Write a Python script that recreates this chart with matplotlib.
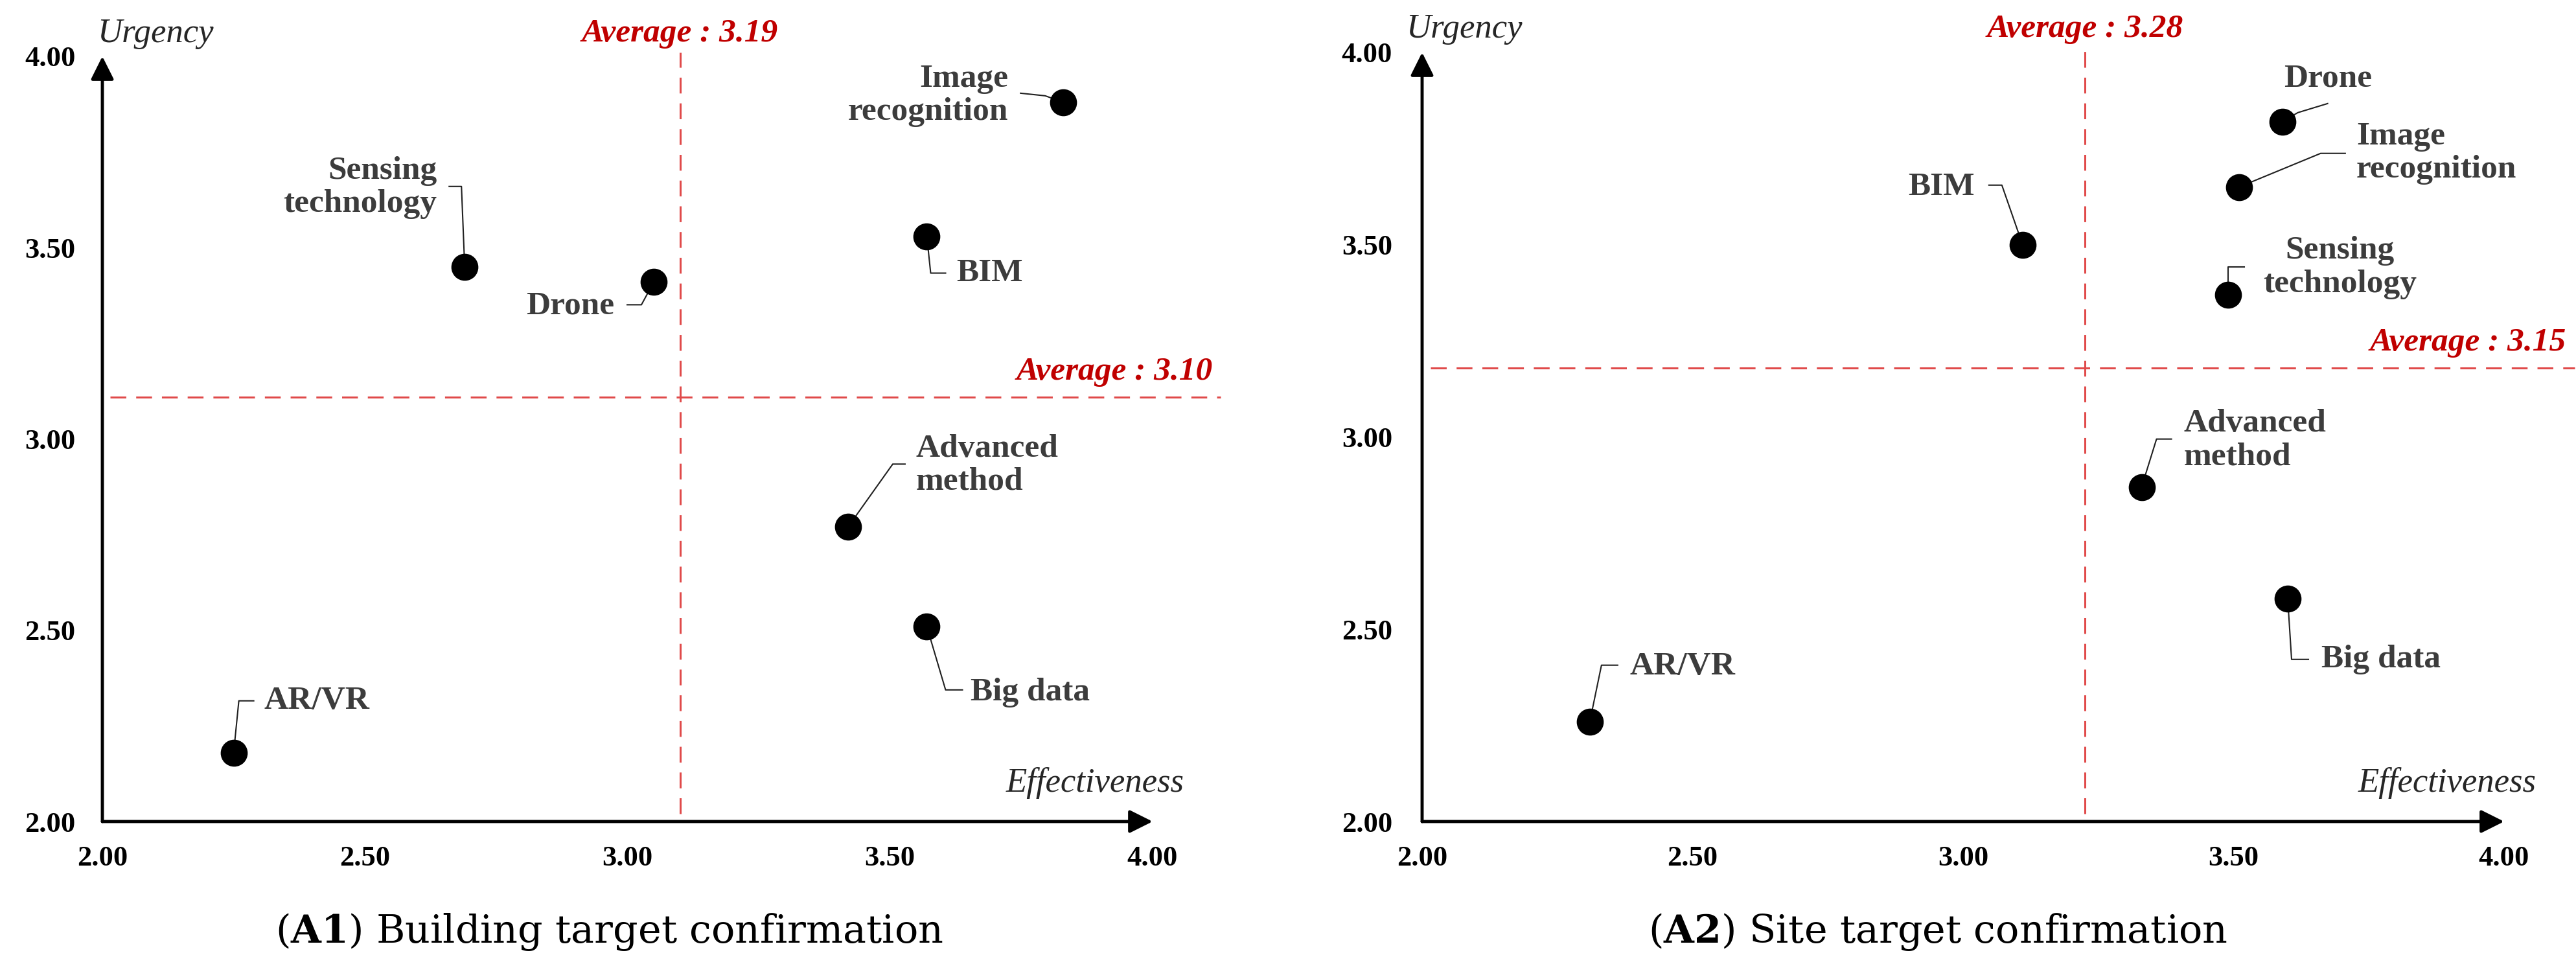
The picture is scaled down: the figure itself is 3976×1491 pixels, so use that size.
import matplotlib.pyplot as plt

plt.rcParams['font.family'] = 'Liberation Serif'
plt.rcParams['mathtext.fontset'] = 'custom'
plt.rcParams['mathtext.rm'] = 'DejaVu Serif'
plt.rcParams['mathtext.bf'] = 'DejaVu Serif:bold'

W, H = 3976, 1491
ticks = [2.0, 2.5, 3.0, 3.5, 4.0]

# (A1) building target confirmation
a1_labels = ["Image\nrecognition", "Sensing\ntechnology", "Drone", "BIM",
             "Advanced\nmethod", "Big data", "AR/VR"]
a1_eff = [3.83, 2.69, 3.05, 3.57, 3.42, 3.57, 2.25]
a1_urg = [3.88, 3.45, 3.41, 3.53, 2.77, 2.51, 2.18]
a1_vline = 3.10   # where the dashed lines sit in the picture
a1_hline = 3.11
a1_avg_txt = ["Average : 3.19", "Average : 3.10"]

# (A2) site target confirmation
a2_labels = ["Drone", "Image\nrecognition", "BIM", "Sensing\ntechnology",
             "Advanced\nmethod", "Big data", "AR/VR"]
a2_eff = [3.59, 3.51, 3.11, 3.49, 3.33, 3.60, 2.31]
a2_urg = [3.82, 3.65, 3.50, 3.37, 2.87, 2.58, 2.26]
a2_vline = 3.225
a2_hline = 3.18
a2_avg_txt = ["Average : 3.28", "Average : 3.15"]

# label placement: text offset (px), alignment, leader bend points (px)
a1_layout = [((-85, 10), 'right', [(-28, 10), (-66, 14)]),
             ((-43, 122), 'right', [(-5, 124), (-24, 124)]),
             ((-61, -37), 'right', [(-19, -35), (-41, -35)]),
             ((46, -57), 'left', [(6, -57), (29, -57)]),
             ((105, 95), 'left', [(69, 97), (88, 97)]),
             ((68, -102), 'left', [(29, -98), (55, -98)]),
             ((47, 80), 'left', [(8, 80), (31, 80)])]
a2_layout = [((70, 66), 'center', [(24, 14), (70, 28)]),
             ((181, 52), 'left', [(126, 52), (164, 52)]),
             ((-74, 89), 'right', [(-32, 92), (-52, 92)]),
             ((172, 42), 'center', [(0, 43), (25, 43)]),
             ((65, 72), 'left', [(23, 74), (46, 74)]),
             ((52, -94), 'left', [(6, -94), (32, -94)]),
             ((62, 85), 'left', [(18, 87), (43, 87)])]

fig = plt.figure(figsize=(W / 100, H / 100), dpi=100)


def draw_panel(x0, y0, kx, ky, labels, eff, urg, layout, vline, hline,
               avg_txt, caption, cap_x, ypad, urg_x):
    xmax, ymax = 4.15, 4.12
    ax = fig.add_axes([x0 / W, y0 / H, (xmax - 2) * kx / W, (ymax - 2) * ky / H])
    ax.set_xlim(2, xmax)
    ax.set_ylim(2, ymax)
    ax.patch.set_visible(False)
    for s in ax.spines.values():
        s.set_visible(False)
    ax.set_xticks(ticks, [f'{t:.2f}' for t in ticks])
    ax.set_yticks(ticks, [f'{t:.2f}' for t in ticks])
    ax.tick_params(length=0, labelsize=32)
    ax.tick_params(axis='x', pad=27)
    ax.tick_params(axis='y', pad=ypad)
    for lab in ax.get_xticklabels() + ax.get_yticklabels():
        lab.set_fontweight('bold')

    arr = dict(arrowstyle='-|>,head_length=0.4,head_width=0.2', mutation_scale=54,
               lw=3.5, color='black', shrinkA=0, shrinkB=0)
    ax.annotate('', xy=(4.0, 2), xytext=(2, 2), arrowprops=arr, annotation_clip=False)
    ax.annotate('', xy=(2, 4.0), xytext=(2, 2), arrowprops=arr, annotation_clip=False)

    red = '#e04a4a'
    ax.plot([vline, vline], [2.02, 4.01], color=red, lw=2.2, dashes=(8, 5), clip_on=False)
    ax.plot([2.015, 4.13], [hline, hline], color=red, lw=2.2, dashes=(8, 5), clip_on=False)
    ax.text(vline, 4.06, avg_txt[0], ha='center', va='center', color='#c00000',
            fontsize=37, fontweight='bold', style='italic', clip_on=False)
    ax.text(4.115, hline + 0.065, avg_txt[1], ha='right', va='center', color='#c00000',
            fontsize=37, fontweight='bold', style='italic', clip_on=False)

    ax.text(urg_x, 4.06, 'Urgency', ha='left', va='center', style='italic',
            fontsize=38, color='#262626')
    ax.text(4.06, 2.10, 'Effectiveness', ha='right', va='center', style='italic',
            fontsize=38, color='#262626')

    for lab, x, y, (off, ha, bends) in zip(labels, eff, urg, layout):
        xs = [x] + [x + bx / kx for bx, by in bends]
        ys = [y] + [y + by / ky for bx, by in bends]
        ax.plot(xs, ys, color='#202020', lw=1.5, zorder=3)
        ax.annotate(lab, (x, y), xytext=off, textcoords='offset pixels', ha=ha,
                    va='center', fontsize=37, fontweight='bold', color='#3c3c3c',
                    linespacing=1.15, multialignment=ha)
    ax.plot(eff, urg, 'o', ms=29, color='black', zorder=4, clip_on=False)

    fig.text(cap_x / W, 1 - 1438 / H, caption, ha='center', va='center',
             fontsize=43.5, family='DejaVu Serif')
    return ax


draw_panel(158, 223, 810.5, 590.5, a1_labels, a1_eff, a1_urg, a1_layout, a1_vline,
           a1_hline, a1_avg_txt, r'($\mathbf{A1}$) Building target confirmation',
           940, 30, 1.99)
draw_panel(2195, 223, 835, 593.5, a2_labels, a2_eff, a2_urg, a2_layout, a2_vline,
           a2_hline, a2_avg_txt, r'($\mathbf{A2}$) Site target confirmation',
           2991, 33, 1.97)

fig.savefig('out.png', dpi=100)
